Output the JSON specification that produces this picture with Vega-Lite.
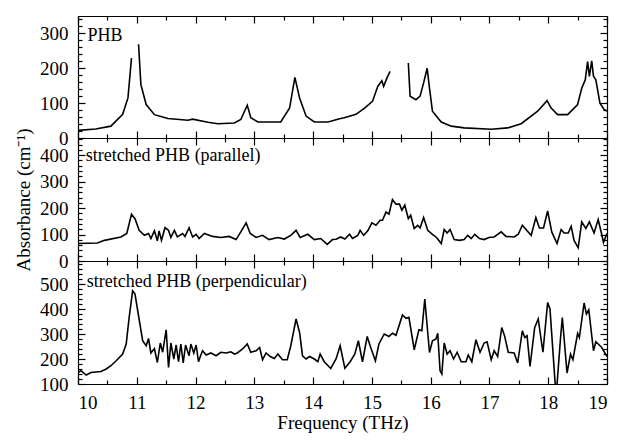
{
  "$schema": "https://vega.github.io/schema/vega-lite/v6.json",
  "autosize": {"type": "pad"},
  "padding": {"left": 14, "top": 15, "right": 11, "bottom": 5},
  "background": "white",
  "spacing": 0,
  "bounds": "flush",
  "config": {
    "font": "Liberation Serif, Times New Roman, serif",
    "view": {"stroke": null},
    "style": {"guide-label": {"font": "Liberation Serif, Times New Roman, serif", "fontSize": 19, "fill": "black"}, "guide-title": {"font": "Liberation Serif, Times New Roman, serif", "fontSize": 19, "fill": "black"}},
    "axis": {"grid": false, "domainColor": "black", "tickColor": "black", "labelColor": "black", "labelFont": "Liberation Serif, Times New Roman, serif", "labelFontSize": 19, "titleFont": "Liberation Serif, Times New Roman, serif", "titleFontSize": 19, "titleFontWeight": "normal", "titleColor": "black", "domainWidth": 1.2, "tickWidth": 1.2}
  },
  "datasets": {
    "phb": [
      {"f": 10.0, "v": 22, "s": 1}, {"f": 10.3, "v": 26, "s": 1}, {"f": 10.56, "v": 34, "s": 1}, {"f": 10.76, "v": 68, "s": 1}, {"f": 10.85, "v": 115, "s": 1}, {"f": 10.91, "v": 229, "s": 1},
      {"f": 11.03, "v": 269, "s": 2}, {"f": 11.07, "v": 153, "s": 2}, {"f": 11.16, "v": 96, "s": 2}, {"f": 11.3, "v": 67, "s": 2}, {"f": 11.53, "v": 56, "s": 2}, {"f": 11.87, "v": 51, "s": 2}, {"f": 11.95, "v": 54, "s": 2}, {"f": 12.21, "v": 45, "s": 2}, {"f": 12.38, "v": 41, "s": 2}, {"f": 12.66, "v": 43, "s": 2}, {"f": 12.77, "v": 53, "s": 2}, {"f": 12.88, "v": 94, "s": 2}, {"f": 12.94, "v": 58, "s": 2}, {"f": 13.06, "v": 46, "s": 2}, {"f": 13.45, "v": 46, "s": 2}, {"f": 13.6, "v": 86, "s": 2}, {"f": 13.69, "v": 174, "s": 2}, {"f": 13.77, "v": 115, "s": 2}, {"f": 13.88, "v": 63, "s": 2}, {"f": 14.02, "v": 46, "s": 2}, {"f": 14.25, "v": 46, "s": 2}, {"f": 14.3, "v": 48, "s": 2}, {"f": 14.45, "v": 55, "s": 2}, {"f": 14.53, "v": 58, "s": 2}, {"f": 14.73, "v": 68, "s": 2}, {"f": 14.87, "v": 85, "s": 2}, {"f": 15.01, "v": 105, "s": 2}, {"f": 15.1, "v": 148, "s": 2}, {"f": 15.17, "v": 164, "s": 2}, {"f": 15.2, "v": 148, "s": 2}, {"f": 15.26, "v": 174, "s": 2}, {"f": 15.31, "v": 191, "s": 2},
      {"f": 15.62, "v": 215, "s": 3}, {"f": 15.65, "v": 120, "s": 3}, {"f": 15.75, "v": 110, "s": 3}, {"f": 15.82, "v": 120, "s": 3}, {"f": 15.88, "v": 158, "s": 3}, {"f": 15.94, "v": 200, "s": 3}, {"f": 15.98, "v": 143, "s": 3}, {"f": 16.03, "v": 77, "s": 3}, {"f": 16.18, "v": 46, "s": 3}, {"f": 16.35, "v": 34, "s": 3}, {"f": 16.57, "v": 29, "s": 3}, {"f": 17.03, "v": 25, "s": 3}, {"f": 17.31, "v": 29, "s": 3}, {"f": 17.54, "v": 41, "s": 3}, {"f": 17.82, "v": 77, "s": 3}, {"f": 17.98, "v": 107, "s": 3}, {"f": 18.05, "v": 86, "s": 3}, {"f": 18.16, "v": 67, "s": 3}, {"f": 18.33, "v": 67, "s": 3}, {"f": 18.5, "v": 96, "s": 3}, {"f": 18.57, "v": 143, "s": 3}, {"f": 18.63, "v": 167, "s": 3}, {"f": 18.67, "v": 219, "s": 3}, {"f": 18.7, "v": 177, "s": 3}, {"f": 18.74, "v": 221, "s": 3}, {"f": 18.77, "v": 177, "s": 3}, {"f": 18.81, "v": 167, "s": 3}, {"f": 18.88, "v": 100, "s": 3}, {"f": 18.95, "v": 82, "s": 3}, {"f": 19.0, "v": 77, "s": 3}
    ],
    "par": [
      {"f": 10.0, "v": 66}, {"f": 10.33, "v": 68}, {"f": 10.45, "v": 78}, {"f": 10.73, "v": 91}, {"f": 10.83, "v": 104}, {"f": 10.91, "v": 177}, {"f": 10.97, "v": 160}, {"f": 11.04, "v": 116}, {"f": 11.13, "v": 97}, {"f": 11.2, "v": 104}, {"f": 11.24, "v": 85}, {"f": 11.3, "v": 114}, {"f": 11.35, "v": 76}, {"f": 11.38, "v": 114}, {"f": 11.42, "v": 78}, {"f": 11.48, "v": 126}, {"f": 11.54, "v": 116}, {"f": 11.58, "v": 89}, {"f": 11.64, "v": 116}, {"f": 11.69, "v": 91}, {"f": 11.78, "v": 104}, {"f": 11.82, "v": 93}, {"f": 11.89, "v": 126}, {"f": 11.95, "v": 91}, {"f": 12.01, "v": 101}, {"f": 12.06, "v": 85}, {"f": 12.15, "v": 104}, {"f": 12.29, "v": 93}, {"f": 12.43, "v": 89}, {"f": 12.57, "v": 93}, {"f": 12.69, "v": 81}, {"f": 12.77, "v": 110}, {"f": 12.86, "v": 144}, {"f": 12.93, "v": 104}, {"f": 13.03, "v": 89}, {"f": 13.14, "v": 97}, {"f": 13.25, "v": 81}, {"f": 13.4, "v": 89}, {"f": 13.51, "v": 83}, {"f": 13.62, "v": 97}, {"f": 13.71, "v": 116}, {"f": 13.78, "v": 89}, {"f": 13.91, "v": 101}, {"f": 14.02, "v": 81}, {"f": 14.13, "v": 85}, {"f": 14.24, "v": 63}, {"f": 14.33, "v": 81}, {"f": 14.39, "v": 82}, {"f": 14.47, "v": 91}, {"f": 14.54, "v": 83}, {"f": 14.62, "v": 101}, {"f": 14.67, "v": 85}, {"f": 14.76, "v": 97}, {"f": 14.8, "v": 116}, {"f": 14.86, "v": 97}, {"f": 14.93, "v": 114}, {"f": 15.0, "v": 144}, {"f": 15.07, "v": 135}, {"f": 15.14, "v": 154}, {"f": 15.18, "v": 154}, {"f": 15.24, "v": 185}, {"f": 15.29, "v": 177}, {"f": 15.35, "v": 232}, {"f": 15.41, "v": 215}, {"f": 15.47, "v": 215}, {"f": 15.51, "v": 192}, {"f": 15.56, "v": 211}, {"f": 15.62, "v": 160}, {"f": 15.66, "v": 173}, {"f": 15.72, "v": 123}, {"f": 15.78, "v": 135}, {"f": 15.82, "v": 125}, {"f": 15.88, "v": 164}, {"f": 15.95, "v": 116}, {"f": 16.03, "v": 101}, {"f": 16.1, "v": 89}, {"f": 16.18, "v": 66}, {"f": 16.23, "v": 119}, {"f": 16.28, "v": 106}, {"f": 16.33, "v": 119}, {"f": 16.4, "v": 81}, {"f": 16.49, "v": 78}, {"f": 16.57, "v": 81}, {"f": 16.63, "v": 97}, {"f": 16.69, "v": 85}, {"f": 16.75, "v": 101}, {"f": 16.83, "v": 85}, {"f": 16.91, "v": 81}, {"f": 16.99, "v": 89}, {"f": 17.08, "v": 91}, {"f": 17.2, "v": 110}, {"f": 17.28, "v": 93}, {"f": 17.42, "v": 91}, {"f": 17.49, "v": 101}, {"f": 17.56, "v": 135}, {"f": 17.64, "v": 114}, {"f": 17.71, "v": 97}, {"f": 17.79, "v": 164}, {"f": 17.85, "v": 125}, {"f": 17.92, "v": 125}, {"f": 17.99, "v": 189}, {"f": 18.06, "v": 110}, {"f": 18.15, "v": 66}, {"f": 18.22, "v": 119}, {"f": 18.27, "v": 106}, {"f": 18.34, "v": 106}, {"f": 18.39, "v": 131}, {"f": 18.44, "v": 78}, {"f": 18.51, "v": 50}, {"f": 18.57, "v": 148}, {"f": 18.64, "v": 123}, {"f": 18.7, "v": 148}, {"f": 18.78, "v": 106}, {"f": 18.85, "v": 157}, {"f": 18.91, "v": 101}, {"f": 18.94, "v": 70}, {"f": 19.0, "v": 104}
    ],
    "perp": [
      {"f": 10.0, "v": 146}, {"f": 10.05, "v": 153}, {"f": 10.14, "v": 136}, {"f": 10.22, "v": 146}, {"f": 10.39, "v": 150}, {"f": 10.48, "v": 160}, {"f": 10.56, "v": 173}, {"f": 10.65, "v": 193}, {"f": 10.76, "v": 220}, {"f": 10.82, "v": 260}, {"f": 10.87, "v": 366}, {"f": 10.93, "v": 473}, {"f": 10.97, "v": 460}, {"f": 11.03, "v": 373}, {"f": 11.1, "v": 273}, {"f": 11.16, "v": 253}, {"f": 11.2, "v": 282}, {"f": 11.24, "v": 224}, {"f": 11.3, "v": 242}, {"f": 11.35, "v": 186}, {"f": 11.4, "v": 264}, {"f": 11.44, "v": 227}, {"f": 11.5, "v": 317}, {"f": 11.54, "v": 166}, {"f": 11.58, "v": 264}, {"f": 11.63, "v": 200}, {"f": 11.67, "v": 256}, {"f": 11.71, "v": 189}, {"f": 11.75, "v": 260}, {"f": 11.79, "v": 184}, {"f": 11.83, "v": 256}, {"f": 11.89, "v": 213}, {"f": 11.92, "v": 260}, {"f": 11.97, "v": 224}, {"f": 12.01, "v": 256}, {"f": 12.05, "v": 189}, {"f": 12.09, "v": 216}, {"f": 12.12, "v": 233}, {"f": 12.18, "v": 216}, {"f": 12.26, "v": 224}, {"f": 12.35, "v": 213}, {"f": 12.43, "v": 227}, {"f": 12.52, "v": 224}, {"f": 12.6, "v": 229}, {"f": 12.66, "v": 220}, {"f": 12.71, "v": 224}, {"f": 12.8, "v": 240}, {"f": 12.88, "v": 260}, {"f": 12.94, "v": 227}, {"f": 13.03, "v": 233}, {"f": 13.09, "v": 246}, {"f": 13.14, "v": 197}, {"f": 13.2, "v": 224}, {"f": 13.27, "v": 210}, {"f": 13.34, "v": 202}, {"f": 13.4, "v": 220}, {"f": 13.48, "v": 197}, {"f": 13.56, "v": 197}, {"f": 13.62, "v": 253}, {"f": 13.71, "v": 360}, {"f": 13.77, "v": 306}, {"f": 13.82, "v": 213}, {"f": 13.88, "v": 200}, {"f": 13.94, "v": 210}, {"f": 14.02, "v": 200}, {"f": 14.08, "v": 189}, {"f": 14.12, "v": 220}, {"f": 14.19, "v": 189}, {"f": 14.3, "v": 162}, {"f": 14.39, "v": 200}, {"f": 14.46, "v": 253}, {"f": 14.54, "v": 163}, {"f": 14.63, "v": 189}, {"f": 14.71, "v": 220}, {"f": 14.77, "v": 273}, {"f": 14.84, "v": 189}, {"f": 14.92, "v": 290}, {"f": 14.98, "v": 246}, {"f": 15.06, "v": 193}, {"f": 15.12, "v": 260}, {"f": 15.21, "v": 300}, {"f": 15.29, "v": 290}, {"f": 15.35, "v": 303}, {"f": 15.41, "v": 295}, {"f": 15.52, "v": 376}, {"f": 15.58, "v": 363}, {"f": 15.63, "v": 367}, {"f": 15.72, "v": 237}, {"f": 15.8, "v": 317}, {"f": 15.85, "v": 313}, {"f": 15.9, "v": 440}, {"f": 15.98, "v": 226}, {"f": 16.03, "v": 273}, {"f": 16.09, "v": 280}, {"f": 16.12, "v": 303}, {"f": 16.16, "v": 153}, {"f": 16.19, "v": 140}, {"f": 16.23, "v": 264}, {"f": 16.28, "v": 220}, {"f": 16.33, "v": 233}, {"f": 16.39, "v": 200}, {"f": 16.45, "v": 227}, {"f": 16.52, "v": 189}, {"f": 16.6, "v": 189}, {"f": 16.64, "v": 216}, {"f": 16.7, "v": 189}, {"f": 16.77, "v": 277}, {"f": 16.84, "v": 227}, {"f": 16.91, "v": 264}, {"f": 16.96, "v": 269}, {"f": 17.03, "v": 197}, {"f": 17.08, "v": 233}, {"f": 17.14, "v": 210}, {"f": 17.21, "v": 326}, {"f": 17.26, "v": 290}, {"f": 17.32, "v": 227}, {"f": 17.42, "v": 224}, {"f": 17.48, "v": 184}, {"f": 17.56, "v": 313}, {"f": 17.6, "v": 286}, {"f": 17.64, "v": 293}, {"f": 17.69, "v": 170}, {"f": 17.77, "v": 326}, {"f": 17.83, "v": 360}, {"f": 17.91, "v": 227}, {"f": 17.99, "v": 426}, {"f": 18.03, "v": 400}, {"f": 18.12, "v": 95}, {"f": 18.15, "v": 98}, {"f": 18.21, "v": 286}, {"f": 18.24, "v": 366}, {"f": 18.32, "v": 144}, {"f": 18.38, "v": 220}, {"f": 18.42, "v": 197}, {"f": 18.5, "v": 303}, {"f": 18.53, "v": 286}, {"f": 18.61, "v": 424}, {"f": 18.65, "v": 380}, {"f": 18.69, "v": 397}, {"f": 18.77, "v": 233}, {"f": 18.81, "v": 269}, {"f": 18.91, "v": 246}, {"f": 19.0, "v": 210}
    ]
  },
  "vconcat": [
    {
      "width": 529, "height": 122,
      "data": {"name": "phb"},
      "layer": [
        {"mark": {"type": "line", "color": "black", "strokeWidth": 1.6, "clip": true},
         "encoding": {
           "x": {"field": "f", "type": "quantitative", "scale": {"domain": [10, 19], "nice": false, "zero": false}, "axis": {"orient": "bottom", "values": [10,11,12,13,14,15,16,17,18,19], "tickSize": -7, "labels": false, "title": null}},
           "y": {"field": "v", "type": "quantitative", "scale": {"domain": [0, 350], "nice": false}, "axis": {"orient": "left", "values": [0,100,200,300], "tickSize": -7, "labelPadding": 17, "title": null}},
           "detail": {"field": "s"}}},
        {"mark": {"type": "line", "opacity": 0},
         "encoding": {
           "x": {"field": "f", "type": "quantitative", "scale": {"domain": [10, 19], "nice": false, "zero": false}, "axis": {"orient": "bottom", "values": [10.5,11.5,12.5,13.5,14.5,15.5,16.5,17.5,18.5], "tickSize": -4, "labels": false, "domain": false, "title": null}},
           "y": {"field": "v", "type": "quantitative", "scale": {"domain": [0, 350], "nice": false}, "axis": {"orient": "left", "values": [20,40,60,80,120,140,160,180,220,240,260,280,320,340], "tickSize": -4, "labels": false, "domain": false, "title": null}},
           "detail": {"field": "s"}}},
        {"mark": {"type": "line", "opacity": 0},
         "encoding": {
           "x": {"field": "f", "type": "quantitative", "scale": {"domain": [10, 19], "nice": false, "zero": false}, "axis": {"orient": "top", "values": [10,11,12,13,14,15,16,17,18,19], "tickSize": -7, "labels": false, "title": null}},
           "y": {"field": "v", "type": "quantitative", "scale": {"domain": [0, 350], "nice": false}, "axis": {"orient": "right", "values": [0,100,200,300], "tickSize": -7, "labels": false, "title": null}},
           "detail": {"field": "s"}}},
        {"mark": {"type": "line", "opacity": 0},
         "encoding": {
           "x": {"field": "f", "type": "quantitative", "scale": {"domain": [10, 19], "nice": false, "zero": false}, "axis": {"orient": "top", "values": [10.5,11.5,12.5,13.5,14.5,15.5,16.5,17.5,18.5], "tickSize": -4, "labels": false, "domain": false, "title": null}},
           "y": {"field": "v", "type": "quantitative", "scale": {"domain": [0, 350], "nice": false}, "axis": {"orient": "right", "values": [20,40,60,80,120,140,160,180,220,240,260,280,320,340], "tickSize": -4, "labels": false, "domain": false, "title": null}},
           "detail": {"field": "s"}}},
        {"data": {"values": [{}]},
         "mark": {"type": "text", "text": "PHB", "align": "left", "baseline": "middle", "fontSize": 18, "font": "Liberation Serif, Times New Roman, serif", "color": "black"},
         "encoding": {
           "x": {"datum": 10.16, "type": "quantitative", "axis": null},
           "y": {"datum": 292, "type": "quantitative", "axis": null}}}
      ],
      "resolve": {"axis": {"x": "independent", "y": "independent"}}
    },
    {
      "width": 529, "height": 123,
      "data": {"name": "par"},
      "layer": [
        {"mark": {"type": "line", "color": "black", "strokeWidth": 1.6, "clip": true},
         "encoding": {
           "x": {"field": "f", "type": "quantitative", "scale": {"domain": [10, 19], "nice": false, "zero": false}, "axis": {"orient": "bottom", "values": [10,11,12,13,14,15,16,17,18,19], "tickSize": -7, "labels": false, "title": null}},
           "y": {"field": "v", "type": "quantitative", "scale": {"domain": [0, 465], "nice": false}, "axis": {"orient": "left", "values": [0,100,200,300,400], "tickSize": -7, "labelPadding": 17, "title": "Absorbance (cm⁻¹)", "titlePadding": 6}}}},
        {"mark": {"type": "line", "opacity": 0},
         "encoding": {
           "x": {"field": "f", "type": "quantitative", "scale": {"domain": [10, 19], "nice": false, "zero": false}, "axis": {"orient": "bottom", "values": [10.5,11.5,12.5,13.5,14.5,15.5,16.5,17.5,18.5], "tickSize": -4, "labels": false, "domain": false, "title": null}},
           "y": {"field": "v", "type": "quantitative", "scale": {"domain": [0, 465], "nice": false}, "axis": {"orient": "left", "values": [20,40,60,80,120,140,160,180,220,240,260,280,320,340,360,380,420,440,460], "tickSize": -4, "labels": false, "domain": false, "title": null}}}},
        {"mark": {"type": "line", "opacity": 0},
         "encoding": {
           "x": {"field": "f", "type": "quantitative", "scale": {"domain": [10, 19], "nice": false, "zero": false}, "axis": {"orient": "top", "values": [10,11,12,13,14,15,16,17,18,19], "tickSize": -7, "labels": false, "title": null}},
           "y": {"field": "v", "type": "quantitative", "scale": {"domain": [0, 465], "nice": false}, "axis": {"orient": "right", "values": [0,100,200,300,400], "tickSize": -7, "labels": false, "title": null}}}},
        {"mark": {"type": "line", "opacity": 0},
         "encoding": {
           "x": {"field": "f", "type": "quantitative", "scale": {"domain": [10, 19], "nice": false, "zero": false}, "axis": {"orient": "top", "values": [10.5,11.5,12.5,13.5,14.5,15.5,16.5,17.5,18.5], "tickSize": -4, "labels": false, "domain": false, "title": null}},
           "y": {"field": "v", "type": "quantitative", "scale": {"domain": [0, 465], "nice": false}, "axis": {"orient": "right", "values": [20,40,60,80,120,140,160,180,220,240,260,280,320,340,360,380,420,440,460], "tickSize": -4, "labels": false, "domain": false, "title": null}}}},
        {"data": {"values": [{}]},
         "mark": {"type": "text", "text": "stretched PHB (parallel)", "align": "left", "baseline": "middle", "fontSize": 18, "font": "Liberation Serif, Times New Roman, serif", "color": "black"},
         "encoding": {
           "x": {"datum": 10.13, "type": "quantitative", "axis": null},
           "y": {"datum": 398, "type": "quantitative", "axis": null}}}
      ],
      "resolve": {"axis": {"x": "independent", "y": "independent"}}
    },
    {
      "width": 529, "height": 123,
      "data": {"name": "perp"},
      "layer": [
        {"mark": {"type": "line", "color": "black", "strokeWidth": 1.6, "clip": true},
         "encoding": {
           "x": {"field": "f", "type": "quantitative", "scale": {"domain": [10, 19], "nice": false, "zero": false}, "axis": {"orient": "bottom", "values": [10,11,12,13,14,15,16,17,18,19], "tickSize": -7, "labelPadding": 16, "title": "Frequency (THz)", "titlePadding": 1}},
           "y": {"field": "v", "type": "quantitative", "scale": {"domain": [100, 592], "nice": false, "zero": false}, "axis": {"orient": "left", "values": [100,200,300,400,500], "tickSize": -7, "labelPadding": 17, "title": null}}}},
        {"mark": {"type": "line", "opacity": 0},
         "encoding": {
           "x": {"field": "f", "type": "quantitative", "scale": {"domain": [10, 19], "nice": false, "zero": false}, "axis": {"orient": "bottom", "values": [10.5,11.5,12.5,13.5,14.5,15.5,16.5,17.5,18.5], "tickSize": -4, "labels": false, "domain": false, "title": null}},
           "y": {"field": "v", "type": "quantitative", "scale": {"domain": [100, 592], "nice": false, "zero": false}, "axis": {"orient": "left", "values": [120,140,160,180,220,240,260,280,320,340,360,380,420,440,460,480,520,540,560,580], "tickSize": -4, "labels": false, "domain": false, "title": null}}}},
        {"mark": {"type": "line", "opacity": 0},
         "encoding": {
           "x": {"field": "f", "type": "quantitative", "scale": {"domain": [10, 19], "nice": false, "zero": false}, "axis": {"orient": "top", "values": [10,11,12,13,14,15,16,17,18,19], "tickSize": -7, "labels": false, "title": null}},
           "y": {"field": "v", "type": "quantitative", "scale": {"domain": [100, 592], "nice": false, "zero": false}, "axis": {"orient": "right", "values": [100,200,300,400,500], "tickSize": -7, "labels": false, "title": null}}}},
        {"mark": {"type": "line", "opacity": 0},
         "encoding": {
           "x": {"field": "f", "type": "quantitative", "scale": {"domain": [10, 19], "nice": false, "zero": false}, "axis": {"orient": "top", "values": [10.5,11.5,12.5,13.5,14.5,15.5,16.5,17.5,18.5], "tickSize": -4, "labels": false, "domain": false, "title": null}},
           "y": {"field": "v", "type": "quantitative", "scale": {"domain": [100, 592], "nice": false, "zero": false}, "axis": {"orient": "right", "values": [120,140,160,180,220,240,260,280,320,340,360,380,420,440,460,480,520,540,560,580], "tickSize": -4, "labels": false, "domain": false, "title": null}}}},
        {"data": {"values": [{}]},
         "mark": {"type": "text", "text": "stretched PHB (perpendicular)", "align": "left", "baseline": "middle", "fontSize": 18, "font": "Liberation Serif, Times New Roman, serif", "color": "black"},
         "encoding": {
           "x": {"datum": 10.15, "type": "quantitative", "axis": null},
           "y": {"datum": 507, "type": "quantitative", "axis": null}}}
      ],
      "resolve": {"axis": {"x": "independent", "y": "independent"}}
    }
  ]
}
